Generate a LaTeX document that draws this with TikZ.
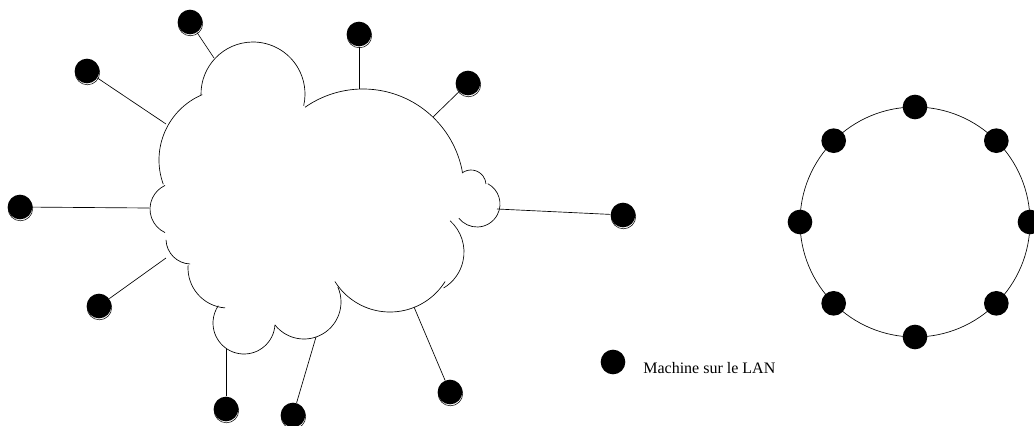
\documentclass[tikz,border=0pt]{standalone}
\usepackage{fontspec}
\setmainfont{Liberation Serif}
\usetikzlibrary{shadows}
\tikzset{lan/.style={circle,fill=black,inner sep=0pt,minimum size=18.5pt},
  lanshadow/.style={lan,general shadow={draw=black,fill=white,line width=0.4pt,shadow xshift=0.3pt,shadow yshift=-1.1pt}},
  wire/.style={line width=0.5pt}}

\begin{document}
\begin{tikzpicture}[x=0.75pt,y=-0.75pt,line width=0.5pt]
  \useasboundingbox (0,0) rectangle (1034,425);
  % le nuage
  \foreach \cx/\cy/\r/\a/\b in {253/94/52/179/373, 363/190/101/235/350,
      471/185/15/233/356, 477/204/23/-62/142, 422/252/42/-48/59,
      390/247/65/32/148, 304/302/37/-24/142, 244/323/31/4/214,
      228/268/40/94/184, 191/239/25/92/178, 176/209/26/115/245,
      230/160/71/160/247}
    \draw ([shift={(\a:\r)}]\cx,\cy) arc[start angle=\a, end angle=\b, radius=\r];
  % points d'accroche sur le nuage
  \foreach \n/\px/\py in {1/214/58, 2/166/124, 3/149/208, 4/166/258, 5/226/349,
      6/316/337, 7/414/307, 8/497/209, 9/433/117, 10/359/89}
    \coordinate (c\n) at (\px,\py);
  % machines autour du nuage
  \foreach \n/\px/\py in {1/190/22, 2/87/71, 3/20/207, 4/99/306, 5/226/409,
      6/293/415, 7/450/392, 8/623/215, 9/468/83, 10/359/34}
  {
    \node[lanshadow] (m\n) at (\px,\py) {};
    \draw[wire] (m\n) -- (c\n);
  }
  % anneau
  \coordinate (ring) at (915,222);
  \draw (ring) circle[radius=115];
  \foreach \a in {0,45,...,315}
    \node[lan] (r\a) at ([shift={(\a:115)}]ring) {};
  % legende
  \node[lan] (key) at (613,362) {};
  \node[anchor=base west,inner sep=0pt,font=\fontsize{12}{14}\selectfont] (keytext) at (643,373) {Machine sur le LAN};
\end{tikzpicture}
\end{document}
